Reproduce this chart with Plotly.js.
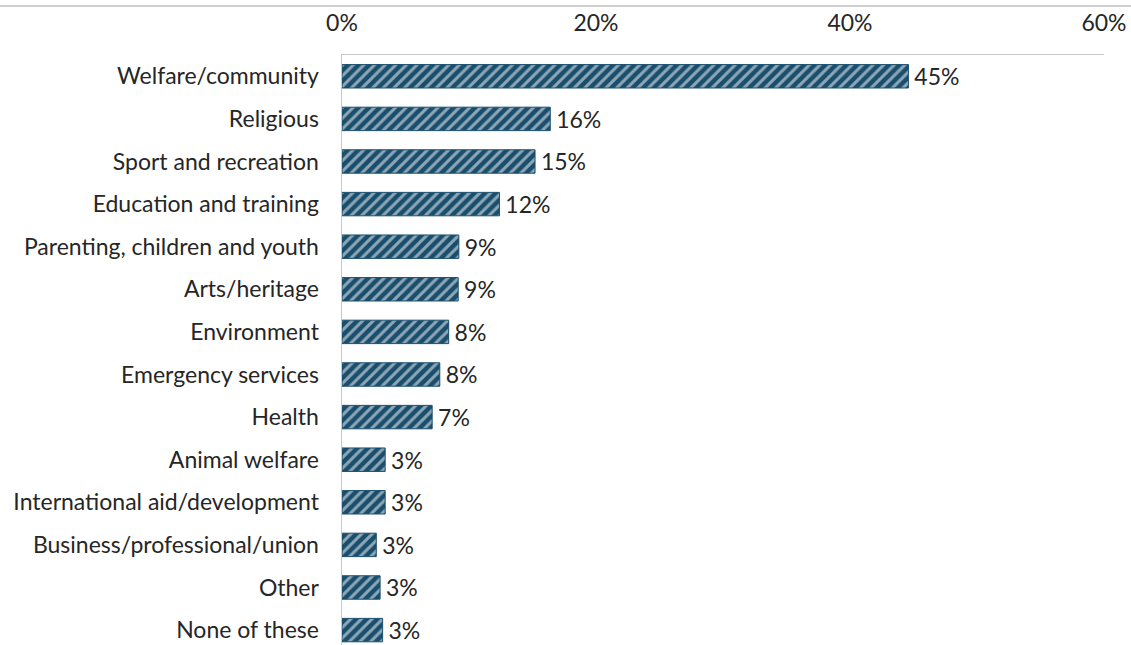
<!DOCTYPE html>
<html>
<head>
<meta charset="utf-8">
<script src="https://cdn.plot.ly/plotly-3.0.1.min.js"></script>
<style>
html,body{margin:0;padding:0;background:#fff;}
#chart{width:1131px;height:645px;}
</style>
</head>
<body>
<div id="chart"></div>
<script>
const categories = [
  "Welfare/community",
  "Religious",
  "Sport and recreation",
  "Education and training",
  "Parenting, children and youth",
  "Arts/heritage",
  "Environment",
  "Emergency services",
  "Health",
  "Animal welfare",
  "International aid/development",
  "Business/professional/union",
  "Other",
  "None of these"
];
const values = [44.6, 16.4, 15.2, 12.4, 9.2, 9.15, 8.4, 7.7, 7.1, 3.4, 3.4, 2.7, 3.0, 3.2];
const valueLabels = ["45%", "16%", "15%", "12%", "9%", "9%", "8%", "8%", "7%", "3%", "3%", "3%", "3%", "3%"];
const xTickVals = [0, 20, 40, 60];
const xTickText = ["0%", "20%", "40%", "60%"];

const FONT = "Lato, 'Open Sans', sans-serif";
const FS = 23;
const BLUE = "#1a4e6d";

const trace = {
  type: "bar",
  orientation: "h",
  y: categories,
  x: values,
  text: valueLabels.map(t => "\u2009" + t),
  textposition: "outside",
  constraintext: "none",
  cliponaxis: false,
  textfont: {family: FONT, size: FS, color: "#262626"},
  marker: {
    color: BLUE,
    line: {color: BLUE, width: 1},
    pattern: {shape: "/", fgcolor: "#ffffff", bgcolor: BLUE, size: 7.5, solidity: 0.4, fillmode: "overlay"}
  },
  hoverinfo: "none"
};

const layout = {
  width: 1131,
  height: 645,
  margin: {l: 342, r: 27, t: 55, b: 0, pad: 0},
  paper_bgcolor: "#ffffff",
  plot_bgcolor: "#ffffff",
  showlegend: false,
  bargap: 0.45,
  font: {family: FONT, size: FS, color: "#262626"},
  xaxis: {
    side: "top",
    range: [0, 60],
    tickvals: xTickVals,
    ticktext: xTickText,
    showgrid: false,
    zeroline: false,
    showline: true,
    linecolor: "#c9c9c9",
    linewidth: 1.5,
    ticks: "",
    ticklabelstandoff: 13,
    tickfont: {family: FONT, size: FS, color: "#262626"},
    fixedrange: true
  },
  yaxis: {
    type: "category",
    range: [13.35, -0.5],
    showgrid: false,
    zeroline: false,
    showline: true,
    linecolor: "#c9c9c9",
    linewidth: 1.5,
    ticks: "",
    ticklabelstandoff: 17,
    tickfont: {family: FONT, size: FS, color: "#262626"},
    fixedrange: true
  },
  shapes: [{
    type: "line", xref: "paper", yref: "paper",
    x0: -342/762, x1: (1131-342)/762,
    y0: 1 + 49/590, y1: 1 + 49/590,
    line: {color: "#d0d0d0", width: 2}
  }]
};

Plotly.newPlot("chart", [trace], layout, {displayModeBar: false, staticPlot: true});
</script>
</body>
</html>
